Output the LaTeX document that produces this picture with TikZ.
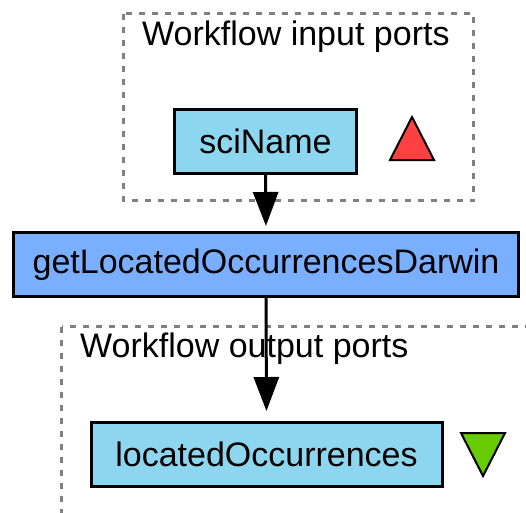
\documentclass[tikz,border=0pt]{standalone}
\usepackage{fontspec}
\setmainfont{Liberation Sans}
\usetikzlibrary{arrows.meta}

\definecolor{portfill}{RGB}{141,214,239}
\definecolor{procfill}{RGB}{122,174,255}
\definecolor{inmark}{RGB}{255,64,64}
\definecolor{outmark}{RGB}{102,204,0}
\definecolor{framegray}{RGB}{128,128,128}

\begin{document}
\begin{tikzpicture}[x=1pt, y=-1pt,
    portbox/.style={draw=black, line width=3pt, fill=portfill, inner sep=0pt, minimum height=64pt, font=\fontsize{34}{40}\selectfont},
    procbox/.style={draw=black, line width=3pt, fill=procfill, inner sep=0pt, minimum height=64pt, font=\fontsize{34}{40}\selectfont},
    framelabel/.style={anchor=base west, inner sep=0pt, font=\fontsize{34}{40}\selectfont},
    dashframe/.style={draw=framegray, line width=3pt, dash pattern=on 6pt off 7pt},
    link/.style={line width=3pt, -{Triangle[width=25pt,length=34pt]}}]
            \clip (0,0) rectangle (526,512);
            \fill[white] (0,0) rectangle (526,512);

            \draw[dashframe] (123.5,13.5) rectangle (473.5,200.5);
            \draw[dashframe] (61.5,326.5) rectangle (620,620);

            \node[framelabel] (inlabel) at (142,45) {Workflow input ports};
            \node[framelabel] (outlabel) at (80,357) {Workflow output ports};

            \node[portbox, minimum width=182pt] (sciName) at (265.5,141) {sciName};
            \node[procbox, minimum width=505pt] (getLocated) at (266,264.5) {getLocatedOccurrencesDarwin};
            \node[portbox, minimum width=351pt] (located) at (266.5,454.5) {locatedOccurrences};

            \draw[link, shorten >=5pt] (sciName.south) -- (getLocated.north);
            \draw[link, shorten >=10pt] (getLocated.south) -- (located.north);

            \filldraw[fill=inmark, draw=black, line width=2pt] (412,117) -- (434,160) -- (390,160) -- cycle;
            \filldraw[fill=outmark, draw=black, line width=2pt] (461,433) -- (505,433) -- (483,476) -- cycle;
        \end{tikzpicture}
\end{document}
